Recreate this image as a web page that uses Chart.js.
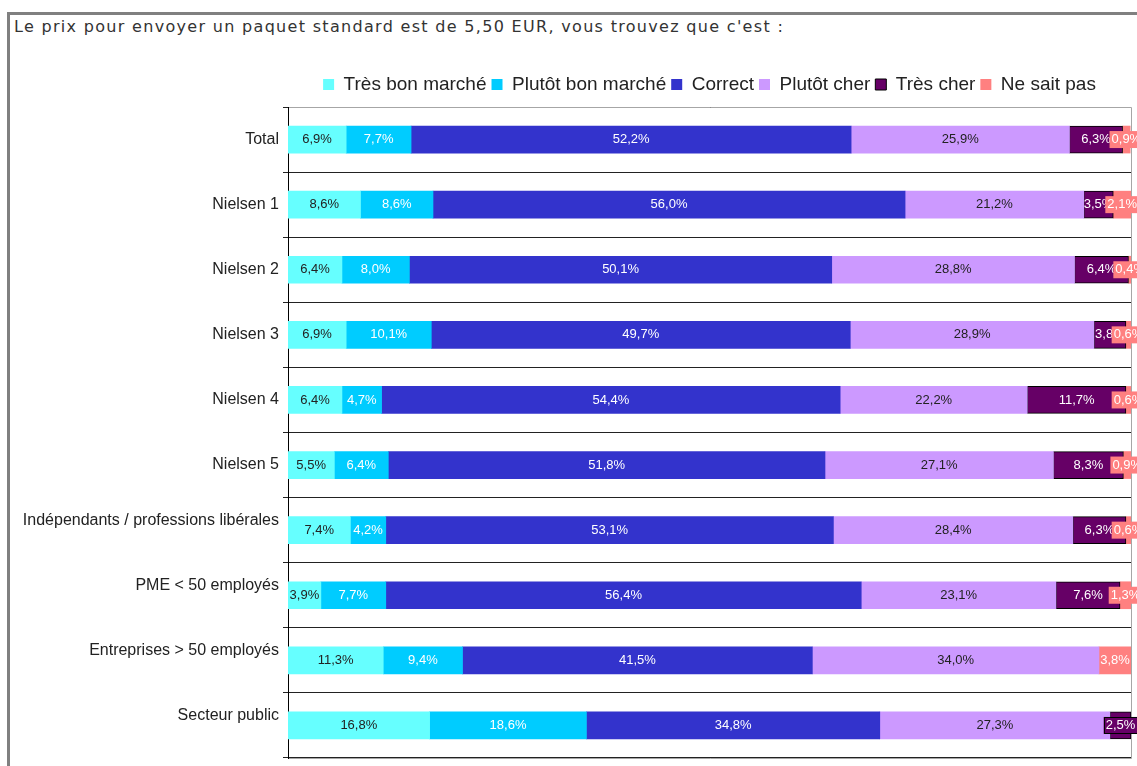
<!DOCTYPE html>
<html><head><meta charset="utf-8">
<script src="https://cdn.jsdelivr.net/npm/chart.js@4.4.0/dist/chart.umd.min.js"></script>
<style>
html,body{margin:0;padding:0;background:#fff;width:1137px;height:766px;overflow:hidden}
#frame{position:absolute;left:7px;top:12px;width:1200px;height:800px;border-left:3px solid #808080;border-top:3px solid #808080}
#title{position:absolute;left:14px;top:17px;font:16px "DejaVu Sans";letter-spacing:1.31px;color:#333;white-space:nowrap}
#wrap{position:absolute;left:0;top:0;width:1137px;height:766px}
</style></head><body>
<div id="frame"></div>
<div id="title">Le prix pour envoyer un paquet standard est de 5,50 EUR, vous trouvez que c'est :</div>
<div id="wrap"><canvas id="c" width="1137" height="766"></canvas></div>
<script>
const categories = ['Total','Nielsen 1','Nielsen 2','Nielsen 3','Nielsen 4','Nielsen 5','Indépendants / professions libérales','PME < 50 employés','Entreprises > 50 employés','Secteur public'];
const seriesNames = ['Très bon marché','Plutôt bon marché','Correct','Plutôt cher','Très cher','Ne sait pas'];
const tresBonMarche = [6.9,8.6,6.4,6.9,6.4,5.5,7.4,3.9,11.3,16.8];
const plutotBonMarche = [7.7,8.6,8.0,10.1,4.7,6.4,4.2,7.7,9.4,18.6];
const correct = [52.2,56.0,50.1,49.7,54.4,51.8,53.1,56.4,41.5,34.8];
const plutotCher = [25.9,21.2,28.8,28.9,22.2,27.1,28.4,23.1,34.0,27.3];
const tresCher = [6.3,3.5,6.4,3.8,11.7,8.3,6.3,7.6,null,2.5];
const neSaitPas = [0.9,2.1,0.4,0.6,0.6,0.9,0.6,1.3,3.8,null];

const colors = ['#66FFFF','#00CCFF','#3333CC','#CC99FF','#660066','#FF8080'];
const textColors = ['#222','#fff','#fff','#222','#fff','#fff'];
const allData = [tresBonMarche,plutotBonMarche,correct,plutotCher,tresCher,neSaitPas];

const datasets = allData.map((d,i)=>({
  label: seriesNames[i],
  data: d,
  backgroundColor: colors[i],
  borderColor: i===4 ? '#000' : colors[i],
  borderWidth: i===4 ? 1 : 0,
  borderSkipped: false,
  barThickness: 27
}));

const legendMargin = {
  id:'legendMargin',
  beforeInit(chart){
    const fit = chart.legend.fit;
    chart.legend.fit = function(){ fit.call(this); this.height += 3; };
  }
};

const frameLines = {
  id:'frameLines',
  afterDatasetsDraw(chart){
    const {ctx, chartArea:a} = chart;
    ctx.save();
    ctx.strokeStyle = '#a6a6a6';
    ctx.lineWidth = 1;
    ctx.beginPath();
    ctx.moveTo(a.left+1, a.top+0.5); ctx.lineTo(a.right+0.5, a.top+0.5);
    ctx.lineTo(a.right+0.5, a.bottom+0.5); ctx.lineTo(a.left+1, a.bottom+0.5);
    ctx.stroke();
    ctx.restore();
  }
};

const valueLabels = {
  id:'valueLabels',
  afterDatasetsDraw(chart){
    const ctx = chart.ctx;
    ctx.save();
    ctx.font = '13px "Liberation Sans", Arial, sans-serif';
    ctx.textAlign = 'center';
    ctx.textBaseline = 'middle';
    chart.data.datasets.forEach((ds,i)=>{
      const meta = chart.getDatasetMeta(i);
      meta.data.forEach((el,j)=>{
        const v = ds.data[j];
        if (v == null) return;
        const txt = v.toFixed(1).replace('.',',') + '%';
        const cx = (el.x + el.base)/2;
        const cy = el.y;
        const w = Math.abs(el.x - el.base);
        const tw = ctx.measureText(txt).width;
        const needBox = (i===5 && tw + 2 > w) || (i===4 && w < tw - 4);
        if (needBox) {
          ctx.fillStyle = colors[i];
          const bw = tw + 4, bh = 17;
          ctx.fillRect(cx - bw/2, cy - bh/2, bw, bh);
          if (i===4) { ctx.strokeStyle='#000'; ctx.lineWidth=1; ctx.strokeRect(Math.round(cx-bw/2)+0.5, Math.round(cy-bh/2)+0.5, Math.round(bw)-1, bh-1); }
        }
        ctx.fillStyle = textColors[i];
        ctx.fillText(txt, cx, cy);
      });
    });
    ctx.restore();
  }
};

new Chart(document.getElementById('c'), {
  type:'bar',
  data:{ labels: categories, datasets },
  options:{
    indexAxis:'y',
    responsive:false,
    animation:false,
    devicePixelRatio:1,
    layout:{ padding:{ top:70, right:6, bottom:8, left:0 } },
    scales:{
      x:{ stacked:true, min:0, max:100, display:false },
      y:{
        stacked:true,
        afterFit(scale){ scale.width = 288; scale.paddingTop = 0; scale.paddingBottom = 0; },
        grid:{ offset:true, color:'#222', lineWidth:1, tickLength:5, drawTicks:true },
        border:{ display:true, color:'#000', width:1 },
        ticks:{
          padding:4,
          color:'#222',
          font:{ family:'"Liberation Sans", Arial, sans-serif', size:16 },
          callback(val, idx){ const l = categories[idx]; return idx >= 6 ? [l, ''] : l; }
        }
      }
    },
    plugins:{
      legend:{
        position:'top',
        fullSize:false,
        labels:{ boxWidth:11, boxHeight:11, padding:5, color:'#222', font:{ family:'"Liberation Sans", Arial, sans-serif', size:19 } }
      },
      tooltip:{ enabled:false },
      title:{ display:false }
    }
  },
  plugins:[legendMargin, frameLines, valueLabels]
});
</script>
</body></html>
